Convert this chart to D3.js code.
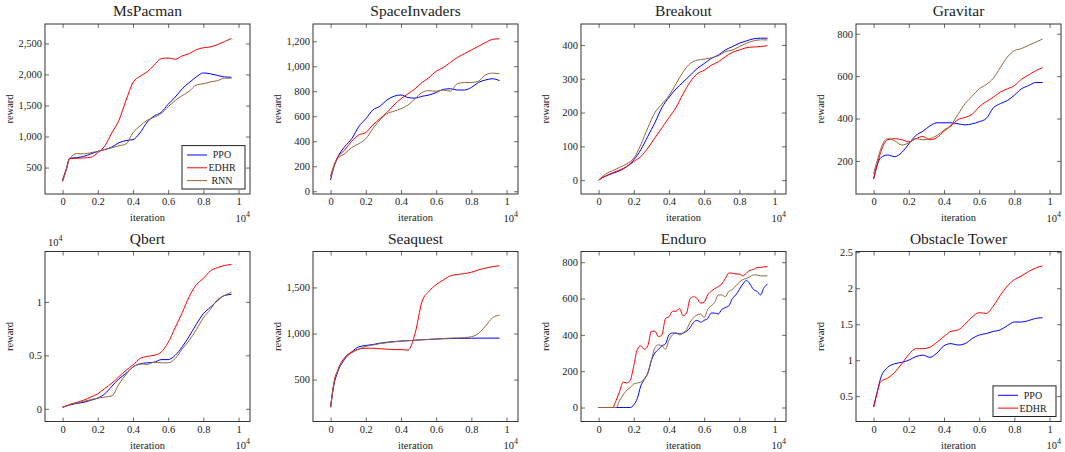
<!DOCTYPE html>
<html>
<head>
<meta charset="utf-8">
<script src="https://cdn.jsdelivr.net/npm/d3@7"></script>
<style>
  body { margin: 0; background: #fff; }
  svg text { font-family: "Liberation Serif", "Times New Roman", serif; fill: #222; }
</style>
</head>
<body>
<svg id="chart"></svg>
<script>
const games = ["MsPacman", "SpaceInvaders", "Breakout", "Gravitar", "Qbert", "Seaquest", "Enduro", "Obstacle Tower"];
const methods = ["PPO", "EDHR", "RNN"];
const colors = ["#0000ff", "#ff0000", "#96663c"];

// iterations (coarse grid) and a finer one for the noisy Enduro curves
const iters = [0, 200, 400, 800, 1200, 1600, 2000, 2400, 2800, 3200, 3600, 4000, 4400, 4800, 5200, 5600, 6000, 6400, 6800, 7200, 7600, 8000, 8400, 8800, 9200, 9600];
const itersFine = [0, 200, 400, 600, 800, 1000, 1200, 1400, 1600, 1800, 2000, 2200, 2400, 2600, 2800, 3000, 3200, 3400, 3600, 3800, 4000, 4200, 4400, 4600, 4800, 5000, 5200, 5400, 5600, 5800, 6000, 6200, 6400, 6600, 6800, 7000, 7200, 7400, 7600, 7800, 8000, 8200, 8400, 8600, 8800, 9000, 9200, 9400, 9600];
const xTicks = [0, 2000, 4000, 6000, 8000, 10000];

const msPacmanPPO  = [300, 470, 650, 660, 680, 720, 760, 790, 830, 900, 935, 950, 1060, 1230, 1330, 1390, 1520, 1635, 1770, 1870, 1960, 2025, 2010, 1985, 1960, 1955];
const msPacmanEDHR = [290, 460, 640, 650, 655, 665, 740, 850, 1060, 1260, 1580, 1870, 1970, 2040, 2150, 2255, 2265, 2245, 2300, 2335, 2400, 2430, 2445, 2480, 2530, 2580];
const msPacmanRNN  = [270, 450, 640, 725, 720, 740, 760, 790, 820, 850, 880, 1060, 1170, 1260, 1310, 1370, 1480, 1580, 1660, 1730, 1830, 1850, 1880, 1900, 1940, 1940];

const spaceInvPPO  = [90, 200, 270, 357, 420, 517, 580, 650, 680, 730, 760, 770, 750, 745, 760, 770, 790, 815, 820, 810, 810, 830, 870, 890, 900, 885];
const spaceInvEDHR = [120, 210, 270, 330, 400, 450, 470, 530, 580, 630, 690, 740, 780, 820, 870, 910, 960, 990, 1030, 1070, 1100, 1130, 1160, 1190, 1215, 1220];
const spaceInvRNN  = [115, 200, 260, 300, 350, 380, 420, 500, 570, 620, 640, 660, 690, 740, 790, 805, 800, 810, 800, 860, 870, 870, 880, 930, 945, 940];

const breakoutPPO  = [0, 7, 12, 20, 28, 40, 60, 90, 130, 170, 215, 245, 270, 290, 310, 330, 345, 360, 370, 385, 395, 405, 412, 418, 420, 420];
const breakoutEDHR = [0, 7, 12, 22, 30, 40, 55, 70, 95, 125, 155, 185, 215, 255, 290, 315, 325, 340, 350, 365, 378, 385, 392, 394, 395, 398];
const breakoutRNN  = [0, 10, 18, 28, 38, 48, 65, 105, 155, 200, 225, 250, 285, 320, 345, 355, 358, 362, 368, 380, 385, 395, 405, 412, 415, 415];

const gravitarPPO  = [115, 180, 215, 228, 220, 240, 280, 320, 340, 365, 380, 380, 380, 375, 370, 375, 385, 400, 450, 470, 485, 510, 540, 555, 570, 570];
const gravitarEDHR = [115, 180, 240, 300, 305, 300, 290, 305, 315, 300, 310, 340, 365, 395, 405, 420, 455, 480, 500, 525, 540, 555, 585, 605, 625, 640];
const gravitarRNN  = [140, 200, 255, 305, 295, 275, 285, 305, 300, 305, 320, 345, 370, 420, 470, 505, 540, 560, 590, 640, 690, 720, 730, 745, 760, 775];

const qbertPPO  = [150, 250, 350, 500, 600, 800, 1000, 1400, 2100, 2800, 3300, 3900, 4200, 4300, 4350, 4600, 4600, 5000, 5800, 6800, 7900, 8900, 9500, 10100, 10600, 10700];
const qbertEDHR = [150, 280, 400, 600, 800, 1100, 1400, 1900, 2400, 3000, 3600, 4100, 4700, 4900, 5000, 5300, 6200, 7600, 9000, 10500, 11600, 12200, 12900, 13200, 13400, 13500];
const qbertRNN  = [100, 250, 400, 550, 700, 850, 1000, 1100, 1200, 2300, 3200, 3900, 4200, 4150, 4350, 4300, 4300, 4700, 5600, 6400, 7400, 8500, 9300, 10200, 10600, 10900];

const seaquestPPO  = [200, 450, 580, 720, 800, 855, 870, 880, 895, 905, 912, 918, 922, 927, 932, 936, 940, 943, 945, 947, 948, 949, 950, 950, 950, 950];
const seaquestEDHR = [200, 480, 600, 740, 800, 830, 840, 840, 835, 830, 825, 825, 820, 1000, 1350, 1460, 1530, 1580, 1625, 1640, 1650, 1665, 1690, 1710, 1725, 1735];
const seaquestRNN  = [200, 470, 590, 730, 790, 830, 860, 875, 890, 900, 910, 918, 922, 927, 932, 936, 940, 945, 950, 952, 955, 965, 1000, 1080, 1170, 1200];

const enduroPPO  = [0, 0, 0, 0, 0, 0, 0, 0, 0, 0, 15, 50, 120, 155, 190, 260, 300, 320, 340, 350, 400, 410, 410, 405, 410, 420, 440, 470, 480, 470, 480, 490, 520, 520, 515, 540, 550, 560, 600, 620, 650, 680, 700, 680, 650, 640, 620, 660, 680];
const enduroEDHR = [0, 0, 0, 0, 0, 40, 90, 140, 135, 150, 230, 320, 340, 320, 340, 420, 420, 390, 400, 490, 500, 530, 530, 545, 505, 520, 600, 610, 600, 575, 580, 620, 640, 655, 665, 680, 710, 740, 740, 735, 735, 725, 740, 755, 760, 770, 770, 775, 775];
const enduroRNN  = [0, 0, 0, 0, 0, 0, 40, 70, 95, 110, 130, 135, 140, 160, 190, 260, 330, 345, 340, 320, 370, 400, 410, 400, 410, 430, 470, 495, 510, 515, 495, 540, 560, 580, 620, 620, 610, 640, 650, 670, 690, 705, 710, 720, 730, 730, 725, 725, 725];

const towerPPO  = [0.35, 0.55, 0.75, 0.9, 0.95, 0.97, 1.0, 1.05, 1.07, 1.04, 1.1, 1.2, 1.23, 1.21, 1.23, 1.3, 1.35, 1.37, 1.4, 1.42, 1.48, 1.53, 1.53, 1.55, 1.58, 1.59];
const towerEDHR = [0.35, 0.55, 0.7, 0.75, 0.83, 0.95, 1.08, 1.16, 1.16, 1.18, 1.25, 1.33, 1.4, 1.42, 1.5, 1.6, 1.66, 1.65, 1.75, 1.9, 2.03, 2.12, 2.17, 2.23, 2.28, 2.31];

// y tick values per game
const msPacmanTicks = [500, 1000, 1500, 2000, 2500];
const spaceInvTicks = [0, 200, 400, 600, 800, 1000, 1200];
const breakoutTicks = [0, 100, 200, 300, 400];
const gravitarTicks = [200, 400, 600, 800];
const qbertTicks = [0, 5000, 10000];
const seaquestTicks = [500, 1000, 1500];
const enduroTicks = [0, 200, 400, 600, 800];
const towerTicks = [0.5, 1, 1.5, 2, 2.5];

const comma = d3.format(",");
const plain = d => String(d);

const panels = [
  { x: iters, series: [msPacmanPPO, msPacmanEDHR, msPacmanRNN], yDomain: [74, 2813], ticks: msPacmanTicks, fmt: comma, legend: true },
  { x: iters, series: [spaceInvPPO, spaceInvEDHR, spaceInvRNN], yDomain: [-22, 1338], ticks: spaceInvTicks, fmt: comma },
  { x: iters, series: [breakoutPPO, breakoutEDHR, breakoutRNN], yDomain: [-41, 462], ticks: breakoutTicks, fmt: comma },
  { x: iters, series: [gravitarPPO, gravitarEDHR, gravitarRNN], yDomain: [44, 846], ticks: gravitarTicks, fmt: comma },
  { x: iters, series: [qbertPPO, qbertEDHR, qbertRNN], yDomain: [-1190, 14714], ticks: qbertTicks, fmt: d => String(d / 1e4), scaled: true },
  { x: iters, series: [seaquestPPO, seaquestEDHR, seaquestRNN], yDomain: [45, 1890], ticks: seaquestTicks, fmt: comma },
  { x: itersFine, series: [enduroPPO, enduroEDHR, enduroRNN], yDomain: [-77, 859], ticks: enduroTicks, fmt: comma },
  { x: iters, series: [towerPPO, towerEDHR], yDomain: [0.148, 2.51], ticks: towerTicks, fmt: plain, legend: true }
];

const width = 1065, height = 452;
const colLeft = [45, 313, 581, 856];
const rowTop = [24, 251.5];
const boxW = 205, boxH = 170;

const svg = d3.select("#chart").attr("width", width).attr("height", height);

panels.forEach((p, i) => {
  const left = colLeft[i % 4];
  const top = rowTop[Math.floor(i / 4)];
  const g = svg.append("g").attr("transform", `translate(${left},${top})`);

  const x = d3.scaleLinear().domain([-1000, 10650]).range([0, boxW]);
  const y = d3.scaleLinear().domain(p.yDomain).range([boxH, 0]);

  // axes with inward ticks on all four sides
  const bottom = g.append("g").attr("transform", `translate(0,${boxH})`)
    .call(d3.axisBottom(x).tickValues(xTicks).tickSize(-4).tickPadding(4).tickFormat(d => String(d / 1e4)));
  const leftAx = g.append("g")
    .call(d3.axisLeft(y).tickValues(p.ticks).tickSize(-4).tickPadding(3).tickFormat(p.fmt));
  g.append("g").call(d3.axisTop(x).tickValues(xTicks).tickSize(-4).tickFormat(""));
  g.append("g").attr("transform", `translate(${boxW},0)`)
    .call(d3.axisRight(y).tickValues(p.ticks).tickSize(-4).tickFormat(""));

  g.selectAll(".domain").remove();
  g.selectAll(".tick line").attr("stroke", "#444").attr("stroke-width", 0.8);
  g.selectAll(".tick text").attr("font-size", 10.5).attr("fill", "#222")
    .style("font-family", '"Liberation Serif", "Times New Roman", serif');

  // curves
  const line = d3.line()
    .x((d, j) => x(p.x[j]))
    .y(d => y(d))
    .curve(d3.curveMonotoneX);

  p.series.forEach((s, k) => {
    g.append("path")
      .datum(s)
      .attr("fill", "none")
      .attr("stroke", colors[k])
      .attr("stroke-width", 1)
      .attr("d", line);
  });

  // frame
  g.append("rect")
    .attr("width", boxW).attr("height", boxH)
    .attr("fill", "none").attr("stroke", "#333").attr("stroke-width", 1);

  // title and labels
  g.append("text").attr("x", boxW / 2).attr("y", -8)
    .attr("text-anchor", "middle").attr("font-size", 15.5).text(games[i]);

  g.append("text").attr("x", boxW / 2).attr("y", boxH + 27)
    .attr("text-anchor", "middle").attr("font-size", 10.5).text("iteration");

  const xm = g.append("text").attr("x", boxW).attr("y", boxH + 27.5)
    .attr("text-anchor", "end").attr("font-size", 10.5);
  xm.append("tspan").text("10");
  xm.append("tspan").attr("dy", -5).attr("font-size", 8).text("4");

  g.append("text")
    .attr("transform", `translate(-32,${boxH / 2}) rotate(-90)`)
    .attr("text-anchor", "middle").attr("font-size", 10.5).text("reward");

  if (p.scaled) {
    const ym = g.append("text").attr("x", 3).attr("y", -5.5).attr("font-size", 10.5);
    ym.append("tspan").text("10");
    ym.append("tspan").attr("dy", -5).attr("font-size", 8).text("4");
  }

  // legend
  if (p.legend) {
    const n = p.series.length;
    const lw = 63, rowH = 12.8, lh = n * rowH + 5;
    const lg = g.append("g").attr("transform", `translate(${boxW - 5 - lw},${boxH - 5 - lh})`);
    lg.append("rect").attr("width", lw).attr("height", lh)
      .attr("fill", "#fff").attr("stroke", "#222").attr("stroke-width", 1);
    p.series.forEach((s, k) => {
      const cy = 2.5 + rowH * (k + 0.5) + 0.5;
      lg.append("line").attr("x1", 5).attr("x2", 25).attr("y1", cy).attr("y2", cy)
        .attr("stroke", colors[k]).attr("stroke-width", 1);
      lg.append("text").attr("x", 40).attr("y", cy).attr("dy", "0.35em")
        .attr("text-anchor", "middle").attr("font-size", 10).text(methods[k]);
    });
  }
});
</script>
</body>
</html>
